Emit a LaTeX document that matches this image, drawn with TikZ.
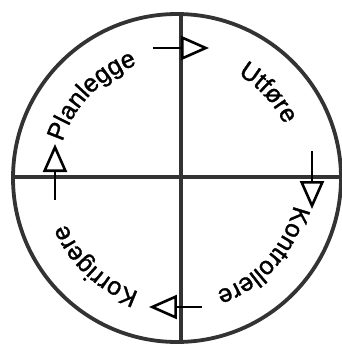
\documentclass[tikz,border=0pt]{standalone}
\usepackage{fontspec}
\setsansfont{Liberation Sans}
\usetikzlibrary{arrows.meta,decorations.text}
\newcommand{\cyclefont}{\sffamily\addfontfeature{FakeBold=1.2}\fontsize{25}{25}\selectfont}

\begin{document}
\begin{tikzpicture}[x=1pt,y=1pt,
  rim/.style={draw=black!80,line width=3.8pt},
  flow/.style={draw=black,line width=2.6pt,-{Triangle[open,length=28pt,width=24pt]}},
  phase/.style={decorate,decoration={text along path,text align=center,text={|\cyclefont|#1}}}]
  \useasboundingbox (-177,-171) rectangle (164,178);
  \draw[rim] (0,0) circle[radius=164pt];
  \draw[rim] (-164,1) -- (164,1);
  \draw[rim] (4,-164) -- (4,164);
  \coordinate (topA) at (-24,130);
  \coordinate (topB) at (32,130);
  \coordinate (rightA) at (135,27);
  \coordinate (rightB) at (135,-31);
  \coordinate (bottomA) at (25,-129);
  \coordinate (bottomB) at (-28,-129);
  \coordinate (leftA) at (-122,-22);
  \coordinate (leftB) at (-122,34);
  \draw[flow] (topA) -- (topB);
  \draw[flow] (rightA) -- (rightB);
  \draw[flow] (bottomA) -- (bottomB);
  \draw[flow] (leftA) -- (leftB);
  \path[phase=Planlegge] (176:120) arc[start angle=176,end angle=96,radius=120pt];
  \path[phase=Utføre] (83:120) arc[start angle=83,end angle=3,radius=120pt];
  \path[phase=Kontrollere] (-2:120) arc[start angle=-2,end angle=-82,radius=120pt];
  \path[phase=Korrigere] (-93:120) arc[start angle=-93,end angle=-173,radius=120pt];
\end{tikzpicture}
\end{document}
